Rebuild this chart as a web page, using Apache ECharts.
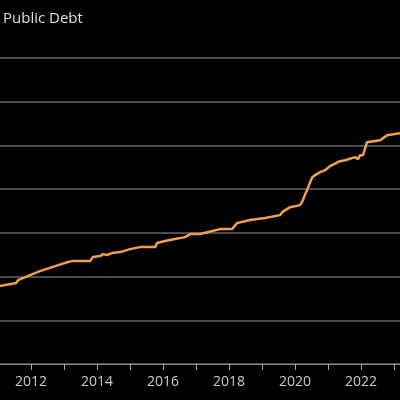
<!DOCTYPE html>
<html><head><meta charset="utf-8">
<script src="https://cdn.jsdelivr.net/npm/echarts@6/dist/echarts.min.js"></script>
<style>html,body{margin:0;padding:0;background:#000}#c{width:400px;height:400px}</style>
</head><body><div id="c"></div>
<script>
const years = [2011.06,2011.55,2011.61,2011.97,2012.27,2012.73,2013.12,2013.24,2013.79,2013.88,2014.09,2014.18,2014.30,2014.45,2014.70,2015.0,2015.30,2015.76,2015.82,2016.06,2016.36,2016.67,2016.82,2017.12,2017.73,2018.09,2018.24,2018.64,2019.09,2019.55,2019.61,2019.85,2020.15,2020.21,2020.36,2020.52,2020.61,2020.76,2020.91,2021.06,2021.36,2021.52,2021.82,2021.91,2021.97,2022.06,2022.18,2022.58,2022.79,2023.18];
const debt = [8.91,9.26,9.6,10.17,10.63,11.2,11.66,11.77,11.77,12.23,12.34,12.57,12.46,12.69,12.8,13.14,13.37,13.37,13.83,14.06,14.29,14.51,14.86,14.86,15.43,15.43,16.11,16.46,16.69,17.03,17.37,17.94,18.17,18.51,19.89,21.37,21.6,21.94,22.17,22.63,23.2,23.31,23.66,23.43,23.89,23.89,25.37,25.6,26.17,26.4];
const labelYears = [2012,2014,2016,2018,2020,2022];
const tickYears = [2012,2013,2014,2015,2016,2017,2018,2019,2020,2021,2022,2023];
const chart = echarts.init(document.getElementById('c'));
chart.setOption({
  backgroundColor:'#000',
  animation:false,
  title:{text:'Public Debt',left:-2,top:6,textStyle:{color:'#e0e0e0',fontSize:15,fontWeight:'normal',fontFamily:'Open Sans'}},
  grid:{left:0,right:0,top:58,bottom:36},
  xAxis:{type:'value',min:2011.06,max:2023.18,
    axisLine:{lineStyle:{color:'#888',width:1}},
    axisTick:{customValues:tickYears,length:6,lineStyle:{color:'#aaa'}},
    axisLabel:{customValues:labelYears,formatter:v=>String(Math.round(v)),color:'#ccc',fontSize:14,margin:11,fontFamily:'Open Sans'},
    splitLine:{show:false}},
  yAxis:{type:'value',min:0,max:35,interval:5,
    axisLabel:{show:false},axisLine:{show:false},axisTick:{show:false},
    splitLine:{lineStyle:{color:'#666',width:1.5}}},
  series:[{type:'line',data:years.map((y,i)=>[y,debt[i]]),showSymbol:false,
    lineStyle:{color:'#f0a050',width:2.5}}]
});
</script></body></html>
